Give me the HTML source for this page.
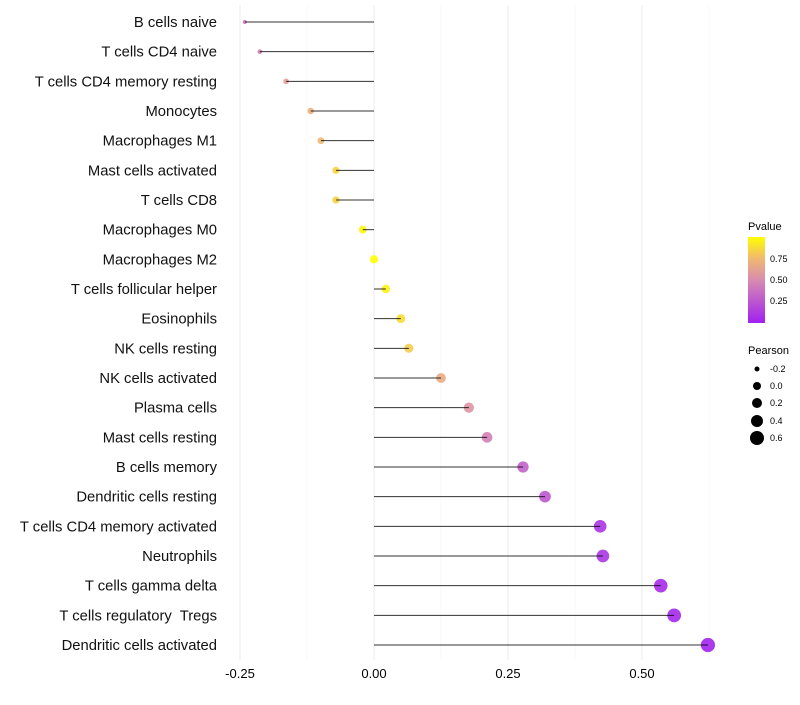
<!DOCTYPE html>
<html><head><meta charset="utf-8"><style>
body{margin:0;background:#fff;font-family:"Liberation Sans",sans-serif}
text{white-space:pre}
</style></head><body>
<svg id="c" width="800" height="700" xmlns="http://www.w3.org/2000/svg">
<defs><linearGradient id="pg" x1="0" y1="1" x2="0" y2="0">
<stop offset="0" stop-color="#a020f0"/><stop offset="0.5" stop-color="#d88cb0"/><stop offset="0.75" stop-color="#f0b870"/><stop offset="1" stop-color="#ffff00"/></linearGradient></defs>
<g id="grid"></g><g id="marks"></g><g id="labels"></g>
<g font-size="9">
<text x="748" y="230" font-size="11">Pvalue</text>
<rect x="748" y="237" width="17" height="86" fill="url(#pg)"/>
<text x="770" y="262">0.75</text><text x="770" y="283">0.50</text><text x="770" y="304">0.25</text>
</g>
<g font-size="9">
<text x="748" y="354" font-size="11">Pearson</text>
<circle cx="757" cy="369" r="2.5"/><text x="770" y="372">-0.2</text>
<circle cx="757" cy="386" r="4"/><text x="770" y="389">0.0</text>
<circle cx="757" cy="403" r="5"/><text x="770" y="406">0.2</text>
<circle cx="757" cy="421" r="6"/><text x="770" y="424">0.4</text>
<circle cx="757" cy="438" r="7"/><text x="770" y="441">0.6</text>
</g>
</svg>
<script>
const categories=["B cells naive","T cells CD4 naive","T cells CD4 memory resting","Monocytes","Macrophages M1","Mast cells activated","T cells CD8","Macrophages M0","Macrophages M2","T cells follicular helper","Eosinophils","NK cells resting","NK cells activated","Plasma cells","Mast cells resting","B cells memory","Dendritic cells resting","T cells CD4 memory activated","Neutrophils","T cells gamma delta","T cells regulatory  Tregs","Dendritic cells activated"];
const pearson=[-0.241,-0.213,-0.164,-0.118,-0.099,-0.071,-0.071,-0.021,0.0,0.022,0.05,0.065,0.125,0.177,0.211,0.278,0.319,0.422,0.427,0.535,0.56,0.623];
const pvalue=[0.4,0.45,0.6,0.7,0.75,0.85,0.85,0.97,1.0,0.95,0.88,0.82,0.68,0.55,0.45,0.3,0.25,0.1,0.1,0.05,0.04,0.02];
const xTicks=[-0.25,0,0.25,0.5];
const xTickLabels=["-0.25","0.00","0.25","0.50"];
const NS="http://www.w3.org/2000/svg";
const x=v=>374+v*536;
const y=i=>22+i*(623/21);
function lerp(a,b,t){return a.map((c,k)=>Math.round(c+(b[k]-c)*t));}
function col(p){const st=[[0,[160,32,240]],[0.5,[216,140,176]],[0.75,[240,184,112]],[1,[255,255,0]]];
for(let k=1;k<st.length;k++){if(p<=st[k][0]){const t=(p-st[k-1][0])/(st[k][0]-st[k-1][0]);const c=lerp(st[k-1][1],st[k][1],t);return`rgb(${c})`;}}return"rgb(255,255,0)";}
function mk(tag,at,par){const e=document.createElementNS(NS,tag);for(const k in at)e.setAttribute(k,at[k]);document.getElementById(par).appendChild(e);return e;}
for(let v=-0.25;v<=0.626;v+=0.125){const major=Math.abs(v/0.25-Math.round(v/0.25))<0.01;const l=mk("line",{x1:x(v),x2:x(v),y1:5,y2:660,stroke:major?"#ebebeb":"#f3f3f3","stroke-width":major?1:0.6},"grid");

}
xTicks.forEach((v,i)=>{const t=mk("text",{x:x(v),y:678,"text-anchor":"middle","font-size":13,fill:"#000"},"labels");t.textContent=xTickLabels[i];

});
categories.forEach((c,i)=>{
const t=mk("text",{x:217,y:y(i)+5,"text-anchor":"end","font-size":14.8,fill:"#111"},"labels");t.textContent=c;


const v=pearson[i];const r=Math.sqrt(Math.max(17+54*v,2.5));
const dot=mk("circle",{cx:x(v),cy:y(i),r:r,fill:col(pvalue[i]),"fill-opacity":0.9},"marks");


const ln=mk("line",{x1:x(0),x2:x(v),y1:y(i),y2:y(i),stroke:"#000","stroke-width":1,"stroke-opacity":0.8},"marks");


});
</script>
</body></html>
